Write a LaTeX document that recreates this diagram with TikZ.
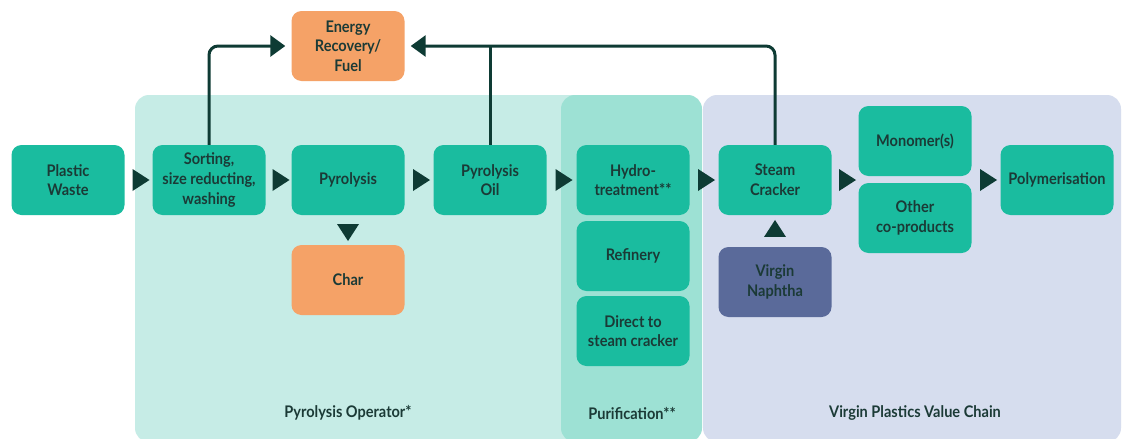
\documentclass[tikz,border=0pt]{standalone}
\usepackage{fontspec}
\setmainfont{Lato}[FakeStretch=0.91]
\usetikzlibrary{shapes.geometric,arrows.meta}
\definecolor{panelA}{HTML}{C6ECE6}
\definecolor{panelB}{HTML}{9DE1D4}
\definecolor{panelC}{HTML}{D6DDEE}
\definecolor{boxteal}{HTML}{1ABC9F}
\definecolor{boxorange}{HTML}{F5A267}
\definecolor{boxnaph}{HTML}{5A6A9A}
\definecolor{darkline}{HTML}{0E3B34}
\definecolor{txt}{HTML}{1B3A36}
\begin{document}
\begin{tikzpicture}[x=1pt,y=-1pt,
  box/.style={rounded corners=10pt, minimum width=113pt, minimum height=70pt, align=center,
    font=\fontsize{16}{19.6}\selectfont\bfseries, text=txt, inner sep=2pt, fill=boxteal},
  orangebox/.style={box, fill=boxorange},
  naphbox/.style={box, fill=boxnaph},
  tri/.style={isosceles triangle, isosceles triangle apex angle=72, isosceles triangle stretches,
    minimum width=22pt, minimum height=17pt, fill=darkline, inner sep=0pt},
  conn/.style={draw=darkline, line width=3pt, rounded corners=9pt,
    -{Triangle[length=15pt,width=21pt]}, shorten >=6pt},
  panellabel/.style={font=\fontsize{16}{18}\selectfont\bfseries, text=txt}]
\useasboundingbox (0,0) rectangle (1122,439);
\fill[white] (0,0) rectangle (1122,439);
% panels
\fill[panelA, rounded corners=14pt] (135,95) rectangle (585,442);
\fill[panelB, rounded corners=14pt] (561,95) rectangle (702,442);
\fill[panelC, rounded corners=14pt] (703,95) rectangle (1121,442);
\node[panellabel] (lblA) at (348,413) {Pyrolysis Operator*};
\node[panellabel] (lblB) at (632,413) {Purification**};
\node[panellabel] (lblC) at (915,413) {Virgin Plastics Value Chain};
% boxes
\node[box] (waste) at (68,180) {Plastic\\Waste};
\node[box] (sort) at (209,180) {Sorting,\\size reducting,\\washing};
\node[box] (pyro) at (348,180) {Pyrolysis};
\node[box] (oil) at (490,180) {Pyrolysis\\Oil};
\node[box] (hydro) at (633,180) {Hydro-\\treatment**};
\node[box] (refin) at (633,256) {Refinery};
\node[box] (direct) at (633,331) {Direct to\\steam cracker};
\node[box] (steam) at (775,180) {Steam\\Cracker};
\node[box] (mono) at (915,141) {Monomer(s)};
\node[box] (other) at (915,218) {Other\\co-products};
\node[box] (poly) at (1057,180) {Polymerisation};
\node[orangebox] (energy) at (348,46) {Energy\\Recovery/\\Fuel};
\node[orangebox] (char) at (348,280) {Char};
\node[naphbox] (naph) at (775,282) {Virgin\\Naphtha};
% triangle connectors
\path (waste.east) -- node[tri] (t1) {} (sort.west);
\path (sort.east) -- node[tri] (t2) {} (pyro.west);
\path (pyro.east) -- node[tri] (t3) {} (oil.west);
\path (oil.east) -- node[tri] (t4) {} (hydro.west);
\path (hydro.east) -- node[tri] (t5) {} (steam.west);
\path (steam.east) -- node[tri] (t6) {} (steam.east -| mono.west);
\path (mono.east |- poly.west) -- node[tri] (t7) {} (poly.west);
\path (pyro.south) -- node[tri, shape border rotate=270] (t8) {} (char.north);
\path (naph.north) -- node[tri, shape border rotate=90] (t9) {} (steam.south);
% lines to energy recovery
\draw[conn] (sort.north) |- (energy.west);
\draw[conn] (steam.north) |- (energy.east);
\draw[draw=darkline, line width=3pt] (oil.north) -- (oil.north |- energy.east);
\end{tikzpicture}
\end{document}
